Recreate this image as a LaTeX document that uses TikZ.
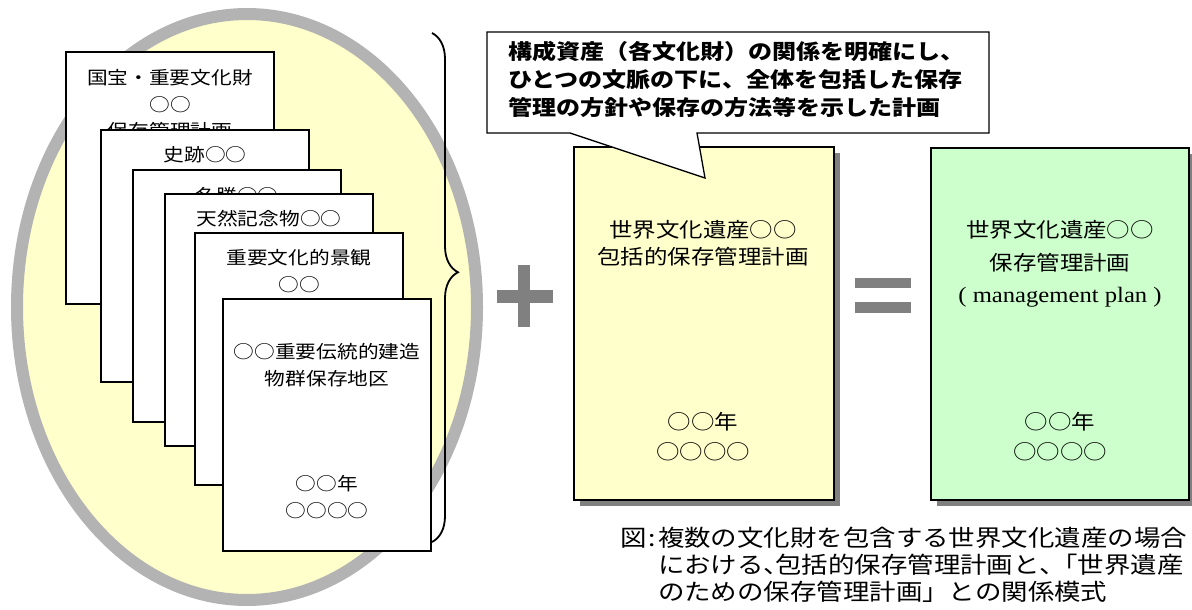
\documentclass[tikz,border=0pt]{standalone}
\usepackage{fontspec}
\newfontfamily\jp[FakeStretch=1.15]{Noto Sans CJK JP}
\newfontfamily\lser[FakeStretch=1.12]{Liberation Serif}
\usetikzlibrary{decorations.pathreplacing,shadows}
\definecolor{ringgray}{HTML}{B3B3B3}
\definecolor{paleyellow}{HTML}{FFFFCC}
\definecolor{palegreen}{HTML}{CCFFCC}
\definecolor{shadowgray}{HTML}{808080}
\definecolor{signgray}{HTML}{808080}
\newcommand\jpnl[1]{\makebox[0.5em][l]{#1}}
\newcommand\capindent{\hphantom{図\hspace{2pt}:\hspace{2pt}}}
\begin{document}
\begin{tikzpicture}[x=1pt, y=-1pt,
  pagebox/.style={draw=black, line width=1.3pt, fill=white, anchor=north west,
    minimum width=208pt, minimum height=252pt, inner sep=0pt, outer sep=0pt},
  pagetext/.style={font=\jp\fontsize{18}{26.5}\selectfont, align=center, inner sep=0pt},
  planbox/.style={draw=black, line width=1.3pt, anchor=north west, inner sep=0pt, outer sep=0pt,
    drop shadow={shadow xshift=6pt, shadow yshift=-6pt, fill=shadowgray, opacity=1}},
  plantext/.style={font=\jp\fontsize{20.4}{27}\selectfont, align=center, inner sep=0pt},
  yeartext/.style={font=\jp\fontsize{20.4}{30}\selectfont, align=center, inner sep=0pt},
  signbar/.style={fill=signgray, draw=none},
]
\useasboundingbox (0,0) rectangle (1192,610);

% ellipse
\draw[ringgray, line width=12pt, fill=paleyellow] (247,307) ellipse [x radius=230, y radius=293];

% stacked pages
\node[pagebox] (p1) at (66,52) {};
\node[pagetext] (t1) at (170,104.5) {国宝・重要文化財\\○○\\保存管理計画};
\node[pagebox] (p2) at (101,130) {};
\node[pagetext] (t2) at (205,155) {史跡○○};
\node[pagebox] (p3) at (133,170) {};
\node[pagetext] (t3) at (237,196) {名勝○○};
\node[pagebox] (p4) at (165,194) {};
\node[pagetext] (t4) at (269,219) {天然記念物○○};
\node[pagebox] (p5) at (195,233) {};
\node[pagetext] (t5) at (299,271) {重要文化的景観\\○○};
\node[pagebox] (p6) at (223,299) {};
\node[pagetext] (t6) at (327,365) {○○重要伝統的建造\\物群保存地区};
\node[pagetext, font=\jp\fontsize{18}{27}\selectfont] (t6y) at (327,497.5) {○○年\\○○○○};

% brace
\coordinate (brtop) at (432,33);
\coordinate (brbot) at (432,542);
\draw[decorate, decoration={brace, amplitude=26pt, aspect=0.47}, line width=1.8pt] (brtop) -- (brbot);

% plus sign
\fill[signbar] (497,290) rectangle (553,303);
\fill[signbar] (518,265) rectangle (530,327);

% yellow plan
\node[planbox, fill=paleyellow, minimum width=260pt, minimum height=353pt] (ybox) at (574,147) {};
\node[plantext] (yt1) at (703,243.5) {世界文化遺産○○\\包括的保存管理計画};
\node[yeartext] (yt2) at (703,437) {○○年\\○○○○};

% speech bubble
\draw[line width=1.3pt, fill=white, line join=miter]
  (487,32) -- (989,32) -- (989,133) -- (697,133) -- (705,178) -- (570,133) -- (487,133) -- cycle;
\node[font=\jp\bfseries\fontsize{20.9}{28}\selectfont, align=left, anchor=west, inner sep=0pt] (bubtext) at (508,79)
  {構成資産（各文化財）の関係を明確にし、\\ひとつの文脈の下に、全体を包括した保存\\管理の方針や保存の方法等を示した計画};

% equals sign
\fill[signbar] (855,278) rectangle (911,288);
\fill[signbar] (855,302) rectangle (911,313);

% green plan
\node[planbox, fill=palegreen, minimum width=258pt, minimum height=352pt] (gbox) at (931,148) {};
\node[plantext, font=\jp\fontsize{20.4}{33}\selectfont] (gt1) at (1060,246.5) {世界文化遺産○○\\保存管理計画};
\node[font=\lser\fontsize{22}{26}\selectfont, inner sep=0pt] (gt2) at (1060,297) {( management plan )};
\node[yeartext] (gt3) at (1060,437) {○○年\\○○○○};

% caption
\node[font=\jp\fontsize{23}{27}\selectfont, align=left, anchor=west, inner sep=0pt] (caption) at (620,565)
  {図\hspace{2pt}:\hspace{2pt}複数の文化財を包含する世界文化遺産の場合\\
   \capindent における\jpnl{、}包括的保存管理計画と\jpnl{、}「世界遺産\\
   \capindent のための保存管理計画」との関係模式};
\end{tikzpicture}
\end{document}
